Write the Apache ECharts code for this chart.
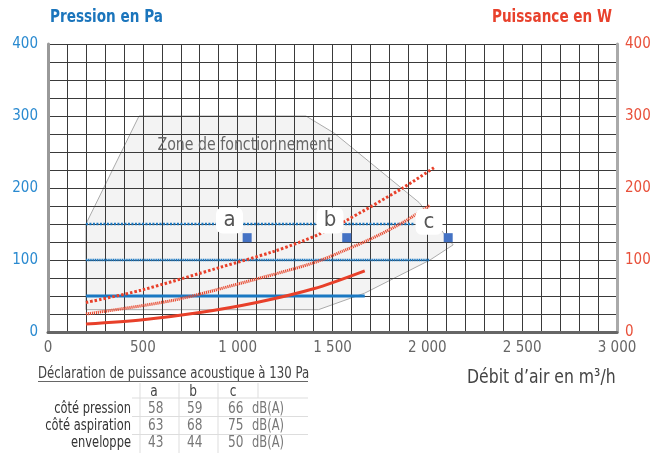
<!DOCTYPE html>
<html><head><meta charset="utf-8">
<script src="https://cdn.jsdelivr.net/npm/echarts@6/dist/echarts.min.js"></script>
<style>html,body{margin:0;padding:0;background:#fff}#c{width:667px;height:458px}</style>
</head><body><div id="c"></div>
<script>
const FONT = "'Liberation Sans Narrow','DejaVu Sans Condensed',sans-serif";
const xTicks = [0, 500, 1000, 1500, 2000, 2500, 3000];
const yTicks = [0, 100, 200, 300, 400];
const zone = [[480,300],[1360,300],[1510,276],[1956,180],[2136,121],[2014,100],[1670,54],[1426,31],[200,31],[200,150]];
const pressure150 = [[200,150],[1935,150]];
const pressure100 = [[200,100],[2010,100]];
const pressure50 = [[200,50],[1670,50]];
const powerSolid = [[200,11],[500,17],[800,27],[1100,41],[1400,60],[1670,85]];
const powerFine = [[200,25],[660,44],[1020,68],[1400,96],[1560,113],[1700,129],[1870,152],[2015,176]];
const powerCoarse = [[200,41],[490,58],[910,90],[1180,111],[1340,126],[1430,136],[1560,153],[1870,200],[2040,229]];
const points = [[1050,131],[1575,131],[2110,131]];
const pointLabels = ['a','b','c'];
const labelPos = [[957,155],[1487,155],[2009,153]];
const tableTitle = 'Déclaration de puissance acoustique à 130 Pa';
const tableCols = ['a','b','c'];
const tableRows = ['côté pression','côté aspiration','enveloppe'];
const tableVals = [[58,59,66],[63,68,75],[43,44,50]];
const tableUnit = 'dB(A)';

const fmtX = v => {
  if (v % 500 !== 0) return '';
  if (v >= 1000) return Math.floor(v/1000) + ' ' + String(v % 1000).padStart(3,'0');
  return String(v);
};
const fmtY = v => (yTicks.indexOf(v) >= 0 ? String(v) : '');

const chart = echarts.init(document.getElementById('c'), null, {renderer:'canvas'});

const graphics = [];
function txt(x, y, text, font, fill, align, sx) {
  graphics.push({type:'text', x:x, y:y, z:50, scaleX:sx||1,
    style:{text:text, font:font, fill:fill, textAlign:align||'left', align:align||'left', textVerticalAlign:'middle', verticalAlign:'middle'}});
}
function ln(x1,y1,x2,y2,color,w){
  graphics.push({type:'line', z:49, shape:{x1:x1,y1:y1,x2:x2,y2:y2}, style:{stroke:color, lineWidth:w||1}});
}
txt(50, 17, 'Pression en Pa', 'bold 18px ' + FONT, '#1b75bc', 'left', 0.84);
txt(612, 17, 'Puissance en W', 'bold 18px ' + FONT, '#e8412c', 'right', 0.84);
txt(245, 145, 'Zone de fonctionnement', '18px ' + FONT, '#666', 'center', 0.875);
txt(467, 378, 'Débit d\u2019air en m\u00b3/h', '20px ' + FONT, '#444', 'left', 0.87);
// table
txt(38, 374, tableTitle, '15px ' + FONT, '#444', 'left', 0.87);
ln(38, 381.5, 308, 381.5, '#666', 1);
const colX = [154, 193, 233];
const valX = [148, 187, 228];
const rowY = [409, 426, 443];
tableCols.forEach((c,i)=>txt(colX[i], 392, c, '15px ' + FONT, '#444', 'center', 0.9));
tableRows.forEach((r,j)=>{
  txt(131, rowY[j], r, '15px ' + FONT, '#333', 'right', 0.85);
  tableVals[j].forEach((v,i)=>txt(valX[i], rowY[j], String(v), '15px ' + FONT, '#777', 'left', 0.9));
  txt(252, rowY[j], tableUnit, '15px ' + FONT, '#777', 'left', 0.85);
});
[398, 416.5, 434.5].forEach(y=>ln(132, y, 308, y, '#ddd', 1));
[140, 179, 218].forEach(x=>ln(x, 383, x, 453, '#ddd', 1));
ln(258, 383, 258, 398, '#ddd', 1);

chart.setOption({
  animation:false,
  grid:{left:48, right:50, top:44, bottom:126, containLabel:false},
  xAxis:{type:'value', min:0, max:3000, interval:100, z:2,
    axisLine:{show:true, lineStyle:{color:'#666', width:3}},
    axisTick:{show:false},
    axisLabel:{formatter:fmtX, color:'#666', fontSize:15, fontFamily:FONT, margin:9, showMinLabel:true, showMaxLabel:true},
    splitLine:{show:true, lineStyle:{color:'#3a3a3a', width:1}}},
  yAxis:[
    {type:'value', min:0, max:400, interval:25, z:2, position:'left',
      axisLine:{show:true, lineStyle:{color:'#999', width:3}},
      axisTick:{show:false},
      axisLabel:{formatter:fmtY, color:'#2a8ad0', fontSize:15, fontFamily:FONT, margin:10},
      splitLine:{show:true, lineStyle:{color:'#3a3a3a', width:1}}},
    {type:'value', min:0, max:400, interval:25, z:2, position:'right',
      axisLine:{show:true, lineStyle:{color:'#aaa', width:3}},
      axisTick:{show:false},
      axisLabel:{formatter:fmtY, color:'#e8503a', fontSize:15, fontFamily:FONT, margin:8},
      splitLine:{show:false}}
  ],
  series:[
    {type:'custom', z:1, data:[[0,0]], silent:true,
      renderItem:(params, api)=>({type:'polygon', shape:{points:zone.map(p=>api.coord(p))},
        style:{fill:'#f3f3f3', stroke:'#aaa', lineWidth:1}})},
    {type:'line', z:3, data:pressure150, showSymbol:false, lineStyle:{color:'#1a78c2', width:2.5, type:[2,1.5]}},
    {type:'line', z:3, data:pressure100, showSymbol:false, lineStyle:{color:'#1a78c2', width:2.5, type:[1.2,0.6]}},
    {type:'line', z:3, data:pressure50, showSymbol:false, lineStyle:{color:'#1a78c2', width:3}},
    {type:'line', z:4, yAxisIndex:1, data:powerSolid, smooth:0.3, showSymbol:false, lineStyle:{color:'#e8402a', width:3}},
    {type:'line', z:4, yAxisIndex:1, data:powerFine, smooth:0.3, showSymbol:false, lineStyle:{color:'#e84a30', width:3, type:[1.2,0.8]}},
    {type:'line', z:4, yAxisIndex:1, data:powerCoarse, smooth:0.3, showSymbol:false, lineStyle:{color:'#e8402a', width:3, type:[2.5,2]}},
    {type:'scatter', z:6, data:labelPos.map((p,i)=>({value:p, name:pointLabels[i]})), symbol:'roundRect', symbolSize:[27,26],
      itemStyle:{color:'#fff', opacity:1},
      label:{show:true, position:'inside', formatter:p=>p.name, color:'#555', fontSize:22, fontFamily:FONT}},
    {type:'scatter', z:7, data:points, symbol:'rect', symbolSize:9, itemStyle:{color:'#4472c4', opacity:1}}
  ],
  graphic:graphics
});
</script></body></html>
